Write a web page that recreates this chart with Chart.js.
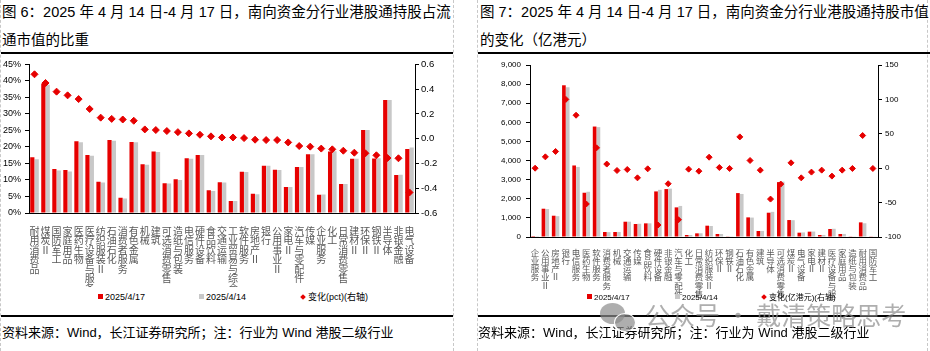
<!DOCTYPE html>
<html>
<head>
<meta charset="utf-8">
<script src="https://cdn.jsdelivr.net/npm/chart.js@4.4.1/dist/chart.umd.min.js"></script>
<style>
    body { margin: 0; width: 930px; height: 351px; position: relative; overflow: hidden; background: #fff;
           font-family: "Liberation Sans", "Noto Sans CJK SC", sans-serif; color: #000; }
    .abs { position: absolute; }
    .title { font-size: 14.5px; line-height: 28px; white-space: nowrap; }
    .rule { height: 2px; background: #000; }
    .source { font-size: 13px; line-height: 18px; white-space: nowrap; }
    .dash-v { width: 0; border-left: 1px dashed #c8c8c8; top: 0; height: 351px; }
    .legend { font-size: 9px; line-height: 12px; white-space: nowrap; }
    .legend i { display: inline-block; width: 5px; height: 5px; margin-right: 2px; vertical-align: 1px; }
    .legend i.dia { width: 4px; height: 4px; transform: rotate(45deg); margin-right: 3px; }
    .wm { font-family: "Noto Sans CJK SC", sans-serif; font-size: 25px; line-height: 30px; color: rgba(140,140,140,0.7); white-space: nowrap; }
    .bub { border-radius: 50%; background: rgba(140,140,140,0.7); }
</style>
</head>
<body>

<div class="abs dash-v" style="left:0"></div>
<div class="abs dash-v" style="left:453px"></div>
<div class="abs dash-v" style="left:477px"></div>
<div class="abs dash-v" style="left:927px"></div>

<!-- Left panel -->
<div class="abs title" style="left:2px;top:-2px">图 6：2025 年 4 月 14 日-4 月 17 日，南向资金分行业港股通持股占流<br>通市值的比重</div>
<div class="abs rule" style="left:1px;top:52px;width:452px"></div>
<canvas id="share-chart" class="abs" style="left:0;top:55px" width="455" height="232"></canvas>
<div class="abs legend" style="left:98px;top:291px"><i style="background:#e60000"></i>2025/4/17</div>
<div class="abs legend" style="left:199px;top:291px"><i style="background:#c8c8c8"></i>2025/4/14</div>
<div class="abs legend" style="left:301px;top:291px"><i class="dia" style="background:#e60000"></i>变化(pct)(右轴)</div>
<div class="abs rule" style="left:1px;top:315px;width:452px"></div>
<div class="abs source" style="left:2px;top:324px">资料来源：Wind，长江证券研究所；注：行业为 Wind 港股二级行业</div>

<!-- Right panel -->
<div class="abs title" style="left:480px;top:-2px">图 7：2025 年 4 月 14 日-4 月 17 日，南向资金分行业港股通持股市值<br>的变化（亿港元）</div>
<div class="abs rule" style="left:478px;top:52px;width:452px"></div>
<canvas id="value-chart" class="abs" style="left:470px;top:55px" width="460" height="245"></canvas>
<div class="abs legend" style="left:587px;top:292px;font-size:8px"><i style="background:#e60000"></i>2025/4/17</div>
<div class="abs legend" style="left:675px;top:292px;font-size:8px"><i style="background:#c8c8c8"></i>2025/4/14</div>
<div class="abs legend" style="left:762px;top:292px;font-size:8px"><i class="dia" style="background:#e60000"></i>变化(亿港元)(右轴)</div>
<div class="abs rule" style="left:478px;top:315px;width:452px"></div>
<div class="abs source" style="left:478px;top:324px">资料来源：Wind，长江证券研究所；注：行业为 Wind 港股二级行业</div>

<!-- watermark -->
<div class="abs bub" style="left:600px;top:303px;width:25px;height:21px"></div>
<div class="abs bub" style="left:614px;top:313px;width:20px;height:17px;border:1px solid #fff"></div>
<div class="abs wm" style="left:645px;top:299px">公众号 · 戴清策略思考</div>

<script>
// Figure 6: share of float market value held via southbound connect (%)
const shareCategories = ['耐用消费品', '煤炭Ⅱ', '国防军工', '家庭用品', '医药生物', '医疗设备与服务', '纺织服装Ⅱ',
    '石油石化', '消费者服务', '有色金属', '机械', '建筑', '可选消费零售', '造纸与包装', '电信服务', '硬件设备',
    '食品饮料', '交通运输', '工业贸易与综合', '软件服务', '房地产Ⅱ', '银行', '公用事业Ⅱ', '家电Ⅱ', '汽车与零配件',
    '传媒', '企业服务', '化工', '日常消费零售', '建材Ⅱ', '环保Ⅱ', '钢铁Ⅱ', '半导体', '非银金融', '电气设备'];
const share0417 = [16.9, 39.2, 13.3, 13.0, 21.7, 17.6, 9.5, 22.1, 4.6, 21.5, 14.8, 18.6, 9.0, 10.2, 16.6, 17.6,
    6.9, 9.3, 3.6, 12.5, 5.8, 14.3, 13.1, 7.9, 13.9, 17.8, 5.5, 18.6, 8.8, 16.4, 25.1, 16.5, 34.2, 11.5, 19.4];
const share0414 = [16.3, 38.8, 12.9, 12.6, 21.4, 17.3, 9.2, 21.9, 4.4, 21.4, 14.6, 18.5, 8.9, 10.0, 16.4, 17.6,
    6.7, 9.2, 3.6, 12.4, 5.7, 14.3, 13.0, 7.9, 13.9, 17.8, 5.6, 18.7, 8.8, 16.4, 25.1, 16.6, 34.2, 11.6, 19.8];
const shareChange = [0.52, 0.45, 0.38, 0.35, 0.32, 0.24, 0.17, 0.16, 0.155, 0.145, 0.075, 0.07, 0.062, 0.053,
    0.043, 0.032, 0.019, 0.01, 0.01, 0.005, -0.008, -0.011, -0.011, -0.03, -0.059, -0.064, -0.08, -0.086,
    -0.097, -0.113, -0.118, -0.134, -0.156, -0.158, -0.434];

// Figure 7: holdings market value (HKD 100m)
const valueCategories = ['企业服务', '公用事业Ⅱ', '房地产Ⅱ', '银行', '电信服务', '医药生物', '软件服务', '消费者服务',
    '机械', '交通运输', '传媒', '食品饮料', '硬件设备', '非银金融', '汽车与零配件', '化工', '日常消费零售', '纺织服装Ⅱ',
    '环保Ⅱ', '钢铁Ⅱ', '石油石化', '有色金属', '建筑', '半导体', '可选消费零售', '煤炭Ⅱ', '电气设备', '家电Ⅱ', '建材Ⅱ',
    '医疗设备与服务', '家庭用品', '造纸与包装', '耐用消费品', '国防军工'];
const value0417 = [50, 1480, 1114, 7939, 3743, 2316, 5780, 261, 261, 800, 679, 714, 2385, 2507, 1550, 104, 191,
    592, 157, 35, 2298, 1027, 313, 1271, 2873, 888, 226, 279, 104, 418, 157, 17, 766, 17];
const value0414 = [45, 1462, 1090, 7839, 3666, 2368, 5750, 255, 264, 802, 693, 715, 2468, 2530, 1625, 105, 195,
    576, 156, 35, 2252, 1016, 316, 1316, 2896, 880, 240, 285, 107, 430, 160, 17, 719, 17];
const valueChange = [0, 16.5, 24.3, 100, 77, -52, 29.6, 6, -3.3, -1.9, -14, -0.9, -82.6, -22.6, -74.9, -1.4,
    -4.3, 16, 1, -0.4, 45.5, 11.2, -2.8, -44.9, -23.1, 7.8, -14, -5.7, -2.8, -11.5, -2.8, -0.4, 47.5, -0.4];

const RED = '#e60000';
const GREY = '#c8c8c8';

Chart.defaults.font.family = '"Liberation Sans", "Noto Sans CJK SC", sans-serif';
Chart.defaults.color = '#000';
Chart.defaults.animation = false;

// stack each character so labels read top to bottom
const vertical = labels => labels.map(l => Array.from(l));

/**
 * Shared axis builder for the Excel-like look
 */
function yAxis(position, width, padding, fontSize, extra) {
    return Object.assign({
        position: position,
        grid: { display: true, drawOnChartArea: false, drawTicks: true, tickLength: 4, color: '#000' },
        border: { display: true, color: '#000' },
        ticks: { padding: padding, font: { size: fontSize }, color: '#000' },
        afterFit: s => { s.width = width; }
    }, extra);
}

function renderShareChart() {
    const ctx = document.getElementById('share-chart').getContext('2d');
    new Chart(ctx, {
        data: {
            labels: vertical(shareCategories),
            datasets: [
                { type: 'line', label: '变化(pct)(右轴)', data: shareChange, yAxisID: 'y1', showLine: false,
                  pointStyle: 'rectRot', pointRadius: 3.5, pointBackgroundColor: RED, pointBorderColor: RED, order: 0 },
                { type: 'bar', label: '2025/4/17', data: share0417, backgroundColor: RED, yAxisID: 'y', order: 1,
                  categoryPercentage: 0.8, barPercentage: 0.95 },
                { type: 'bar', label: '2025/4/14', data: share0414, backgroundColor: GREY, yAxisID: 'y', order: 1,
                  categoryPercentage: 0.8, barPercentage: 0.95 }
            ]
        },
        options: {
            responsive: false,
            layout: { padding: { top: 9, left: 0, right: 0, bottom: 0 } },
            plugins: { legend: { display: false }, tooltip: { enabled: false } },
            scales: {
                x: {
                    grid: { display: false },
                    border: { display: true, color: '#000' },
                    ticks: { autoSkip: false, maxRotation: 0, minRotation: 0, padding: 5, color: '#595959',
                             font: { family: '"Noto Sans CJK SC", sans-serif', size: 10, lineHeight: 0.95 } },
                    afterFit: s => { s.height = 74; }
                },
                y: yAxis('left', 29, 4, 9, { min: 0, max: 45, ticks: { stepSize: 5, padding: 4, font: { size: 9 }, color: '#000',
                    callback: v => v + '%' } }),
                y1: yAxis('right', 40, 2, 9.5, { min: -0.6, max: 0.6, ticks: { stepSize: 0.2, padding: 2, font: { size: 9.5 }, color: '#000',
                    callback: v => v.toFixed(1) } })
            }
        }
    });
}

function renderValueChart() {
    const ctx = document.getElementById('value-chart').getContext('2d');
    new Chart(ctx, {
        data: {
            labels: vertical(valueCategories),
            datasets: [
                { type: 'line', label: '变化(亿港元)(右轴)', data: valueChange, yAxisID: 'y1', showLine: false,
                  pointStyle: 'rectRot', pointRadius: 3, pointBackgroundColor: RED, pointBorderColor: RED, order: 0 },
                { type: 'bar', label: '2025/4/17', data: value0417, backgroundColor: RED, yAxisID: 'y', order: 1,
                  categoryPercentage: 0.75, barPercentage: 0.95 },
                { type: 'bar', label: '2025/4/14', data: value0414, backgroundColor: GREY, yAxisID: 'y', order: 1,
                  categoryPercentage: 0.75, barPercentage: 0.95 }
            ]
        },
        options: {
            responsive: false,
            layout: { padding: { top: 10, left: 0, right: 0, bottom: 0 } },
            plugins: { legend: { display: false }, tooltip: { enabled: false } },
            scales: {
                x: {
                    grid: { display: false },
                    border: { display: true, color: '#000' },
                    ticks: { autoSkip: false, maxRotation: 0, minRotation: 0, padding: 4, color: '#595959',
                             font: { family: '"Noto Sans CJK SC", sans-serif', size: 8.5, lineHeight: 0.95 } },
                    afterFit: s => { s.height = 63; }
                },
                y: yAxis('left', 60, 5, 8, { min: 0, max: 9000, ticks: { stepSize: 1000, padding: 5, font: { size: 8 }, color: '#000',
                    callback: v => v.toLocaleString('en-US') } }),
                y1: yAxis('right', 52, 3, 8, { min: -100, max: 150, ticks: { stepSize: 50, padding: 3, font: { size: 8 }, color: '#000' } })
            }
        }
    });
}

renderShareChart();
renderValueChart();
</script>
</body>
</html>
